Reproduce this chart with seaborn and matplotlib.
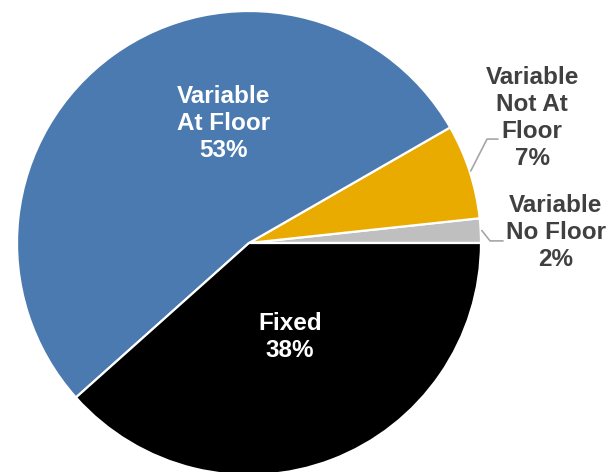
import numpy as np
import seaborn as sns
from matplotlib import pyplot as plt

# data, counterclockwise from 3 o'clock
labels = ["Variable\nNo Floor", "Variable\nNot At\nFloor", "Variable\nAt Floor", "Fixed"]
shares = [1.7, 6.6, 53.3, 38.4]
shown = [2, 7, 53, 38]
colors = ["#BFBFBF", "#EAAB00", "#4A7AB0", "#000000"]

sns.set_theme(style="white")
plt.rcParams['font.family'] = ['Liberation Sans', 'DejaVu Sans']

fig = plt.figure(figsize=(6.06, 4.72), dpi=100)
ax = fig.add_axes([0, 0, 1, 1])

wedges, _ = ax.pie(shares, colors=colors, startangle=0, counterclock=True,
                   wedgeprops=dict(edgecolor="white", linewidth=1.6))

# label layout (data units, radius = 1)
txt_pos = [(1.323, 0.047), (1.22, 0.539), (-0.108, 0.517), (0.177, -0.405)]
txt_col = ["#404040", "#404040", "white", "white"]
for lab, s, (x, y), c in zip(labels, shown, txt_pos, txt_col):
    ax.text(x, y, f"{lab}\n{s}%", ha="center", va="center", color=c,
            fontsize=17.5, fontweight="bold", linespacing=1.22)

# leader lines for the small slices
elbows = [((1.039, 0.009), (1.095, 0.009)), ((1.026, 0.448), (1.073, 0.448))]
for w, (e1, e2) in zip(wedges[:2], elbows):
    ang = np.deg2rad((w.theta1 + w.theta2) / 2)
    p0 = (1.005 * np.cos(ang), 1.005 * np.sin(ang))
    ax.plot([p0[0], e1[0], e2[0]], [p0[1], e1[1], e2[1]], color="#A6A6A6", lw=1.2)

ax.set_xlim(-249 / 232, (606 - 249) / 232)
ax.set_ylim(-(472 - 243) / 232, 243 / 232)
ax.set_aspect("equal")
ax.axis("off")

fig.savefig("out.png", dpi=100)
